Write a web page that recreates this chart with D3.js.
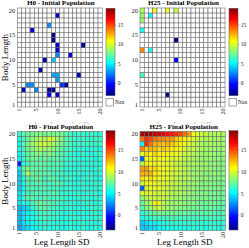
<!DOCTYPE html>
<html><head><meta charset="utf-8">
<script src="https://cdn.jsdelivr.net/npm/d3@7"></script>
<style>body{margin:0;background:#fff}svg{display:block}text{font-family:"Liberation Serif","Times New Roman",serif}</style>
</head><body>
<script>
// ---------- data ----------
const columns = d3.range(1, 21);           // Leg Length SD 1..20
const rowsIdx = d3.range(1, 21);           // Body Length 1..20
const axisTicks = [1, 5, 10, 15, 20];
const colorTicks = [0, 5, 10, 15];
const colorDomain = [-3.4, 19.3];
const titles = ["H0 - Initial Population", "H25 - Initial Population", "H0 - Final Population", "H25 - Final Population"];
const xLabel = "Leg Length SD";
const yLabel = "Body Length";

// sparse initial populations: [leg SD column, body length row, value]
const h0Initial = [
  [10,19,-1.5],[8,17,2.5],[4,16,-1.3],[9,15,-3],[9,14,-3],[10,13,-1.5],[10,12,-1.5],
  [16,13,-2.5],[10,11,2.5],[13,11,-1.5],[7,10,-2.5],[9,10,4],[6,8,-2.5],[9,7,3.2],
  [10,7,3.2],[15,7,-2],[10,6,3],[11,5,0.6],[12,5,-2.5],[3,5,2.5],[4,5,2.5],[2,4,-2],
  [5,4,2.5],[8,4,-3],[9,4,-3],[8,3,-1],[10,3,-2]
];
const h25Initial = [
  [1,20,9],[4,20,10.5],[7,20,10.5],[9,20,9.5],[1,19,8.5],[3,19,5.3],[1,18,8.5],
  [1,16,5.5],[9,14,-3],[1,12,13.5],[3,12,5.5],[9,10,-0.5],[1,7,6.5],[7,3,-3]
];

// full final populations, rows listed from body length 20 (top) down to 1
const h0Final = [
  [6,7,7.5,7.5,8,8,7.5,8,7.5,8,7.5,7,6.5,6,6.5,6,6,6.5,6,6],
  [5.5,6.5,7.5,8,8.5,9,9,10,9.5,8.5,8,7,6.5,6.5,6,6.5,6,6,6.5,6],
  [5,7,7.5,8.5,9,9.5,10,9,9,8,7.5,7,6.5,6,6.5,6,6.5,6,6,6.5],
  [5.5,6.5,7.5,8,8.5,9,8.5,8.5,8,7.5,7,6.5,6.5,6,6,6,5.5,6,6,5.5],
  [5,6.5,7,7.5,8,8,7.5,8,7.5,7,7,6.5,6,6,5.5,6,6,5.5,6,6],
  [5,6,7,7.5,7.5,7,7.5,7,7,7,6.5,6.5,6,6,6,5.5,6,6,5.5,6],
  [0,6,6.5,7,7,7.5,7,7,6.5,7,6.5,6,6,6,5.5,6,5.5,6,6,5.5],
  [4.5,7,8,7,7.5,7,7,6.5,7,6.5,6.5,6,6,5.5,6,6,6,5.5,6,6],
  [4,6.5,9,7.5,7,7,7,7,6.5,6.5,6.5,6,6,6,6,5.5,6,6,5.5,6],
  [4,6,7,7,7.5,7,6.5,7,7,6.5,6,6.5,6,6,5.5,6,6,6,6,5.5],
  [4,5.5,7,6.5,7,7,6.5,6.5,6.5,7,6.5,6,6,5.5,6,6,5.5,6,6,6],
  [4,5.5,6.5,7,6.5,6.5,7,6.5,6.5,6.5,6,6,6,6,5.5,6,6,5.5,6,6],
  [4.5,6,6.5,6.5,7,6.5,6.5,6.5,7,6.5,6,6,6,6,6,5.5,6,6,6,5.5],
  [4.5,6,7,7,6.5,6.5,7,6.5,6.5,6.5,6.5,6,6,5.5,6,6,6,5.5,6,6],
  [4.5,5.5,6,6.5,7,7.5,7,7,6.5,6.5,6,6,6,6,5.5,6,6,6,5.5,6],
  [3.5,4,4.5,6,6.5,7,7,6.5,6.5,6,6,6,6,5.5,6,5.5,6,6,6,6],
  [3.5,4.5,5,5.5,6,6.5,6.5,6.5,6,6,6,5.5,6,6,5.5,6,5.5,6,6,5.5],
  [3.5,4.5,5.5,5.5,6,6,6.5,6,6,6,5.5,6,5.5,6,6,5.5,6,5.5,6,6],
  [3.5,4.5,5,5.5,5.5,6,6,6,6,5.5,6,5.5,6,5.5,6,6,5.5,6,5.5,6],
  [3,4,4.5,5,5.5,5.5,6,5.5,5.5,6,5.5,5.5,6,5.5,5.5,6,5.5,5.5,6,5.5]
];
const h25Final = [
  [18.5,19,18.5,18,17.5,17,16.5,16,15.5,15,14,13,10.5,10,9.5,9.5,9,9,9,9],
  [14,15.5,15,14,13.5,13.5,13,13,12,11.5,11,10.5,10,9.5,9,9,9,8.5,9,8.5],
  [5,15.5,14,12.5,12.5,12,12.5,12,11.5,11,10.5,10,9.5,9,9,8.5,9,8.5,8.5,8.5],
  [13.5,12,12.5,12,11.5,12,11.5,11,11,10.5,10,9.5,9.5,9,9,8.5,8.5,8.5,8.5,8.5],
  [10,11.5,11,11.5,11,11,11,10.5,10.5,10,9.5,9.5,9,9,8.5,8.5,8.5,8.5,8,8.5],
  [1.5,10.5,11,10.5,11,10.5,10.5,10,10,9.5,9.5,9,9,8.5,8.5,8.5,8.5,8,8.5,8],
  [9,11,10.5,11,10.5,10.5,10,10,9.5,9.5,9,9,9,8.5,8.5,8.5,8,8.5,8,8],
  [13,13,11.5,11.5,11,10.5,10.5,10,10,9.5,9.5,9,8.5,8.5,8.5,8.5,8.5,8,8,8],
  [12.5,12.5,12.5,11,11,10.5,10,10,9.5,9.5,9,9,8.5,8.5,8.5,8,8,8.5,8,8],
  [11.5,11,11.5,11,10.5,10.5,10,10,9.5,9,9,9,8.5,8.5,8,8.5,8,8,8,8],
  [9.5,11,10.5,10.5,10,10,10,9.5,9.5,9,9,8.5,8.5,8.5,8,8,8,8,8,7.5],
  [1.5,10,10.5,10,10.5,10,9.5,9.5,9,9,8.5,8.5,8.5,8,8,8,8,7.5,8,7.5],
  [10,10,10,10,9.5,10,9.5,9,9,9,8.5,8.5,8,8,8,8,7.5,8,7.5,7.5],
  [8,9,9.5,9.5,9.5,9.5,9,9,8.5,8.5,8.5,8,8,8,7.5,8,7.5,7.5,7.5,7.5],
  [7.5,8.5,9,11,10.5,9,9,8.5,8.5,8.5,8,8,8,7.5,7.5,7.5,7.5,7.5,7.5,7],
  [7,8,8.5,9,10,9,8.5,8.5,8,8,8,7.5,7.5,7.5,7.5,7,7.5,7,7,7],
  [6,6.5,7,7.5,7.5,7.5,7.5,7.5,7.5,7,7.5,7,7,7,7,7,7,7,6.5,7],
  [5.5,6,6,6.5,6.5,6.5,6.5,7,6.5,6.5,6.5,6.5,6.5,6.5,6.5,6.5,6.5,6.5,6.5,6.5],
  [4,4.5,5,5,5.5,5.5,6,6,6,6,6,6,6,6,6,6,6,6,6,6],
  [4,4,4.5,4.5,5,5,5.5,5.5,5.5,5.5,5.5,5.5,6,5.5,6,5.5,6,6,5.5,6]
];

// ---------- colour map (jet) ----------
function jet(t) {
  const c = v => Math.max(0, Math.min(1, v));
  const r = c(Math.min(4*t - 1.5, -4*t + 4.5));
  const g = c(Math.min(4*t - 0.5, -4*t + 3.5));
  const b = c(Math.min(4*t + 0.5, -4*t + 2.5));
  return d3.rgb(r*255, g*255, b*255).formatHex();
}
const norm = d3.scaleLinear().domain(colorDomain).range([0, 1]).clamp(true);
const color = v => jet(norm(v));

// ---------- layout ----------
const W = 249, H = 248;
const svg = d3.select("body").append("svg").attr("width", W).attr("height", H);
const defs = svg.append("defs");
const grad = defs.append("linearGradient").attr("id", "jetGrad")
  .attr("x1", 0).attr("y1", 1).attr("x2", 0).attr("y2", 0);
d3.range(0, 1.0001, 0.0625).forEach(t => grad.append("stop").attr("offset", t).attr("stop-color", jet(t)));

const panels = [
  {title: titles[0], sparse: h0Initial, x0: 17.3, x1: 102.3, y0: 8, y1: 107, cbX: 106, cbY0: 8.3, cbY1: 95.7, nan: true, ylab: true, xlab: false, ty: 4.5},
  {title: titles[1], sparse: h25Initial, x0: 140, x1: 225, y0: 8, y1: 107, cbX: 229, cbY0: 8.3, cbY1: 95.7, nan: true, ylab: false, xlab: false, ty: 4.5},
  {title: titles[2], full: h0Final, x0: 17.3, x1: 102.3, y0: 131.5, y1: 230.5, cbX: 106, cbY0: 130.7, cbY1: 230, nan: false, ylab: true, xlab: true, ty: 128.5},
  {title: titles[3], full: h25Final, x0: 140, x1: 225.3, y0: 131.5, y1: 230.5, cbX: 229, cbY0: 130.7, cbY1: 230, nan: false, ylab: false, xlab: true, ty: 128.5}
];

// faint, mostly hidden x labels of the upper panels
[0, 1].forEach(i => {
  const p = panels[i];
  svg.append("text").attr("x", (p.x0 + p.x1) / 2 + 2).attr("y", 127.8)
    .attr("text-anchor", "middle").attr("font-size", 9).attr("fill", "#c4c4c4").text(xLabel);
});
svg.append("rect").attr("x", 0).attr("y", 124.2).attr("width", W).attr("height", H).attr("fill", "#fff");

panels.forEach(p => {
  const g = svg.append("g");
  const x = d3.scaleBand().domain(columns).range([p.x0, p.x1]);
  const y = d3.scaleBand().domain(rowsIdx.slice().reverse()).range([p.y0, p.y1]);

  let cells = [];
  if (p.full) {
    p.full.forEach((row, i) => row.forEach((v, j) => cells.push({c: columns[j], r: 20 - i, v})));
  } else {
    const map = new Map(p.sparse.map(d => [d[0] + "_" + d[1], d[2]]));
    columns.forEach(c => rowsIdx.forEach(r => {
      const k = c + "_" + r;
      cells.push({c, r, v: map.has(k) ? map.get(k) : null});
    }));
  }
  g.selectAll("rect.cell").data(cells).join("rect").attr("class", "cell")
    .attr("x", d => x(d.c)).attr("y", d => y(d.r))
    .attr("width", x.bandwidth()).attr("height", y.bandwidth())
    .attr("fill", d => d.v === null ? "#fff" : color(d.v))
    .attr("stroke", "#666").attr("stroke-width", 0.55);

  // axes
  const ax = g.append("g").attr("transform", `translate(0,${p.y1 + 1.5})`)
    .call(d3.axisBottom(x).tickValues(axisTicks).tickSize(0).tickPadding(0));
  ax.select(".domain").remove();
  ax.selectAll("text").attr("font-size", 6).attr("fill", "#222")
    .attr("x", 0).attr("y", 0).attr("dy", "0.33em")
    .attr("transform", "rotate(-90)")
    .attr("text-anchor", "end").style("font-family", '"Liberation Serif",serif');
  const ay = g.append("g").attr("transform", `translate(${p.x0 - 2},0)`)
    .call(d3.axisLeft(y).tickValues(axisTicks).tickSize(0).tickPadding(0));
  ay.select(".domain").remove();
  ay.selectAll("text").attr("font-size", 6.5).attr("fill", "#222").style("font-family", '"Liberation Serif",serif');

  // title
  g.append("text").attr("x", (p.x0 + p.x1) / 2 + 1).attr("y", p.ty).attr("text-anchor", "middle")
    .attr("font-size", 7).attr("font-weight", "bold").text(p.title);
  if (p.ylab) {
    g.append("text").attr("transform", `translate(7.5,${(p.y0 + p.y1) / 2}) rotate(-90)`)
      .attr("text-anchor", "middle").attr("font-size", 9).text(yLabel);
  }
  if (p.xlab) {
    g.append("text").attr("x", (p.x0 + p.x1) / 2 + 2).attr("y", 244.5).attr("text-anchor", "middle")
      .attr("font-size", 9).text(xLabel);
  }

  // colour bar
  const cy = d3.scaleLinear().domain(colorDomain).range([p.cbY1, p.cbY0]);
  g.append("rect").attr("x", p.cbX).attr("y", p.cbY0).attr("width", 9).attr("height", p.cbY1 - p.cbY0)
    .attr("fill", "url(#jetGrad)").attr("stroke", "#555").attr("stroke-width", 0.5);
  const cax = g.append("g").attr("transform", `translate(${p.cbX + 9},0)`)
    .call(d3.axisRight(cy).tickValues(colorTicks).tickSize(1.2).tickPadding(1.5));
  cax.select(".domain").remove();
  cax.selectAll("line").attr("stroke", "#333").attr("stroke-width", 0.4);
  cax.selectAll("text").attr("font-size", 5.5).attr("fill", "#222").style("font-family", '"Liberation Serif",serif');
  if (p.nan) {
    g.append("rect").attr("x", p.cbX).attr("y", 98.3).attr("width", 7.3).attr("height", 7.7)
      .attr("fill", "#fff").attr("stroke", "#666").attr("stroke-width", 0.6);
    g.append("text").attr("x", p.cbX + 9).attr("y", 104.3).attr("font-size", 5.5).attr("fill", "#222").text("Nan");
  }
});
</script>
</body></html>
